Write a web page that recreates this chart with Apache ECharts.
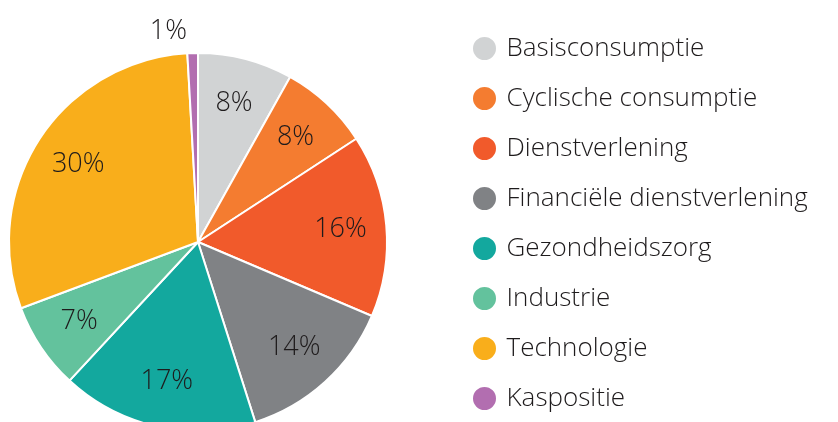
<!DOCTYPE html>
<html>
<head>
<meta charset="utf-8">
<script src="https://cdn.jsdelivr.net/npm/echarts@6/dist/echarts.min.js"></script>
<style>
  html, body { margin: 0; padding: 0; background: #fff; }
  #chart { width: 838px; height: 422px; }
</style>
</head>
<body>
<div id="chart"></div>
<script>
var categories = ['Basisconsumptie', 'Cyclische consumptie', 'Dienstverlening', 'Financiële dienstverlening', 'Gezondheidszorg', 'Industrie', 'Technologie', 'Kaspositie']
var values = [8.1, 7.7, 15.6, 13.7, 16.8, 7.4, 29.8, 0.9]
var colors = ['#d1d3d4', '#f47c30', '#f15a2b', '#808285', '#13a89e', '#63c29d', '#f9ae1b', '#b26eb0']

var fontFamily = '"Open Sans", Lato, sans-serif'
var textColor = '#1e1b1c'

function pct(p) {
  return Math.round(p.value) + '%'
}

var pieData = categories.map(function (name, i) {
  var item = { name: name, value: values[i], itemStyle: { color: colors[i] } }
  // the tiny slice gets its label outside the pie
  if (i === categories.length - 1) {
    item.label = { show: true, position: 'outside' }
  }
  return item
})

var labelData = categories.map(function (name, i) {
  var item = { name: name, value: values[i] }
  if (i === categories.length - 1) {
    item.label = { show: false }
  }
  return item
})

var chart = echarts.init(document.getElementById('chart'))
chart.setOption({
  animation: false,
  legend: {
    orient: 'vertical',
    left: 466,
    top: 30,
    height: 400,
    icon: 'circle',
    itemWidth: 34,
    itemHeight: 25,
    itemGap: 23,
    data: categories,
    textStyle: {
      fontFamily: fontFamily,
      fontWeight: 300,
      fontSize: 26,
      lineHeight: 27,
      color: textColor
    }
  },
  series: [{
    type: 'pie',
    center: [198, 242],
    radius: [0, 189],
    startAngle: 90,
    clockwise: true,
    silent: true,
    data: pieData,
    itemStyle: {
      borderColor: '#fff',
      borderWidth: 2
    },
    label: {
      show: false,
      formatter: pct,
      fontFamily: fontFamily,
      fontWeight: 300,
      fontSize: 27,
      color: textColor
    },
    labelLine: { show: false, length: 22, length2: 0 }
  }, {
    // transparent ring only used to place the inner labels
    type: 'pie',
    center: [198, 242],
    radius: [100, 180],
    startAngle: 90,
    clockwise: true,
    silent: true,
    legendHoverLink: false,
    data: labelData,
    itemStyle: { color: 'transparent' },
    label: {
      show: true,
      position: 'inside',
      formatter: pct,
      fontFamily: fontFamily,
      fontWeight: 300,
      fontSize: 27,
      color: textColor
    },
    labelLine: { show: false }
  }]
})
</script>
</body>
</html>
